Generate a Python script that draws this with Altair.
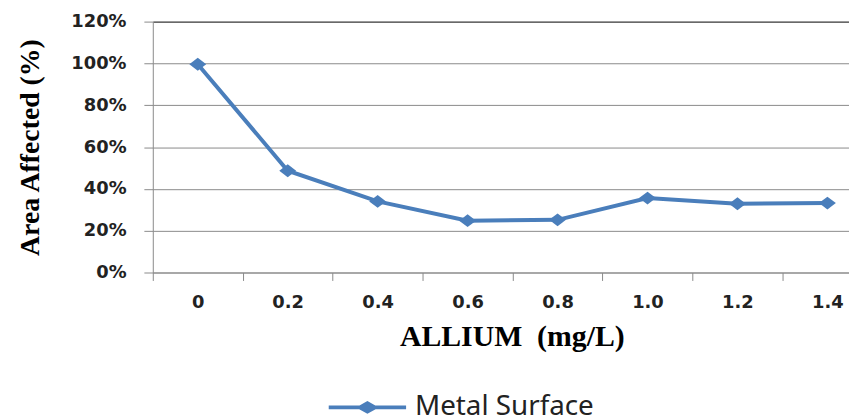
import altair as alt
import pandas as pd

# ---- data ----
allium = [0, 0.2, 0.4, 0.6, 0.8, 1.0, 1.2, 1.4]
area = [0.996, 0.487, 0.340, 0.248, 0.252, 0.356, 0.329, 0.332]
series = ["Metal Surface"] * len(allium)

y_ticks = [0, 0.2, 0.4, 0.6, 0.8, 1.0, 1.2]
x_bounds = [-0.1, 0.1, 0.3, 0.5, 0.7, 0.9, 1.1, 1.3]

df = pd.DataFrame({"allium": allium, "area": area, "series": series})

blue = "#4a7ebb"
grid_gray = "#8a8a8a"
text_col = "#222222"

marker_path = "M-1.31,0L0,-1L1.31,0L0,1Z"
legend_path = ("M-1,-0.05L1,-0.05L1,0.05L-1,0.05Z "
               "M-0.295,0L0,-0.167L0.295,0L0,0.167Z")

x_enc = alt.X(
    "allium:Q",
    scale=alt.Scale(domain=[-0.1, 1.448], nice=False, zero=False),
    axis=alt.Axis(
        values=x_bounds,
        labelExpr="datum.value < 0 ? '0' : format(datum.value + 0.1, '.1f')",
        labelOffset=45.3,
        labelBaseline="alphabetic",
        labelPadding=27.7,
        labelFont="DejaVu Sans",
        labelFontWeight="bold",
        labelFontSize=18,
        labelColor=text_col,
        labelOverlap=False,
        labelFlush=False,
        labelBound=False,
        tickSize=8,
        tickColor=grid_gray,
        domainColor=grid_gray,
        grid=False,
        title="ALLIUM\u00a0 (mg/L)",
        titleFont="Liberation Serif",
        titleFontWeight="bold",
        titleFontSize=30,
        titleColor="#000000",
        titleX=362,
        titleY=74,
        titleAlign="center",
        titleBaseline="alphabetic",
    ),
)

y_enc = alt.Y(
    "area:Q",
    scale=alt.Scale(domain=[0, 1.2], nice=False),
    axis=alt.Axis(
        values=y_ticks,
        format=".0%",
        labelFont="DejaVu Sans",
        labelFontWeight="bold",
        labelFontSize=18,
        labelColor=text_col,
        labelPadding=18,
        tickSize=9,
        tickColor=grid_gray,
        domainColor=grid_gray,
        grid=True,
        gridColor=alt.condition("datum.value >= 1.19", alt.value("#000000"), alt.value(grid_gray)),
        gridWidth=1,
        title="Area Affected (%)",
        titleFont="Liberation Serif",
        titleFontWeight="bold",
        titleFontSize=28,
        titleColor="#000000",
        titleAngle=270,
        titleX=-115,
        titleY=126.5,
        titleAlign="center",
        titleBaseline="alphabetic",
    ),
)

base = alt.Chart(df).encode(x=x_enc, y=y_enc)

line = base.mark_line(color=blue, strokeWidth=4)

points = base.mark_point(
    filled=True, shape=marker_path, size=169, opacity=1
).encode(
    color=alt.Color(
        "series:N",
        scale=alt.Scale(range=[blue]),
        legend=alt.Legend(
            orient="none",
            legendX=177.4,
            legendY=350,
            title=None,
            symbolType=legend_path,
            symbolSize=6084,
            symbolStrokeWidth=0,
            labelFont="Noto Sans",
            labelFontSize=28,
            labelColor=text_col,
            labelOffset=9,
            labelLimit=0,
            padding=0,
        ),
    )
)

chart = (
    alt.layer(line, points)
    .properties(
        width=702,
        height=253,
        autosize=alt.AutoSizeParams(type="none"),
        padding={"left": 146, "top": 12, "right": 0, "bottom": 147},
    )
    .configure_view(stroke=None)
)

chart.save("out.html", embed_options={"renderer": "svg", "actions": False})
